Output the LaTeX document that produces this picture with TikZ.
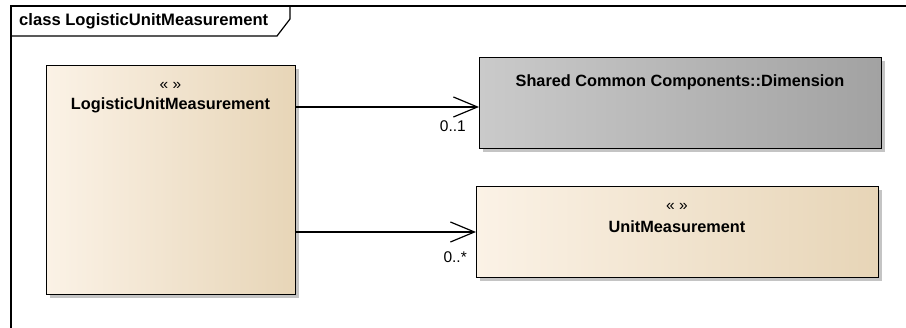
\documentclass[tikz,border=0pt]{standalone}
\usepackage{fontspec}
\setmainfont{Liberation Sans}
\usetikzlibrary{arrows.meta}
\definecolor{creamL}{HTML}{FBF2E6}
\definecolor{creamM}{HTML}{F6EADB}
\definecolor{creamR}{HTML}{E7D5B7}
\definecolor{grayL}{HTML}{CACACA}
\definecolor{grayR}{HTML}{A2A2A2}
\definecolor{shadowc}{HTML}{C4C4C4}
\tikzset{
  txt/.style={font=\fontsize{15.5}{18}\selectfont, inner sep=0pt},
  btxt/.style={font=\fontsize{16.3}{19}\selectfont\bfseries, inner sep=0pt},
  ttxt/.style={font=\fontsize{16.6}{19}\selectfont\bfseries, inner sep=0pt},
  stxt/.style={font=\fontsize{15.5}{18}\selectfont, inner sep=0pt},
  classbox/.style={draw=black, line width=1.4pt, anchor=north west, inner sep=0pt},
  cream/.style={classbox, left color=creamL, middle color=creamM, right color=creamR},
  grey/.style={classbox, left color=grayL, right color=grayR},
  assoc/.style={line width=1.2pt, -{Straight Barb[length=24pt,width=20pt,line width=1.2pt]}},
  frameline/.style={line width=1.2pt, draw=black}
}
\begin{document}
\begin{tikzpicture}[x=1pt,y=-1pt]
\useasboundingbox[fill=white] (0,0) rectangle (906,328);
% frame
\draw[frameline] (11,328) -- (11,6) -- (906,6);
\draw[frameline] (11,36) -- (277,36) -- (290,19) -- (290,6);
\node[ttxt, anchor=west] (title) at (19,21) {class LogisticUnitMeasurement};
% shadows
\fill[shadowc] (50,69) rectangle (299,298);
\fill[shadowc] (483,61) rectangle (885,152);
\fill[shadowc] (480,190) rectangle (882,281);
% boxes
\node[cream, minimum width=249pt, minimum height=229pt] (lum) at (46,65) {};
\node[grey, minimum width=402pt, minimum height=91pt] (dim) at (479,57) {};
\node[cream, minimum width=402pt, minimum height=91pt] (um) at (476,186) {};
% texts
\node[stxt] (lumst) at (170.5,86) {« »};
\node[btxt] (lumname) at (170.5,105) {LogisticUnitMeasurement};
\node[btxt] (dimname) at (680,82) {Shared Common Components::Dimension};
\node[stxt] (umst) at (677,207) {« »};
\node[btxt] (umname) at (677,227) {UnitMeasurement};
% connectors
\coordinate (a1) at (0,107);
\coordinate (a2) at (0,232);
\draw[assoc] (lum.east |- a1) -- (dim.west |- a1);
\draw[assoc] (lum.east |- a2) -- (um.west |- a2);
\node[txt, anchor=east] (m1) at (466,126) {0..1};
\node[txt, anchor=east] (m2) at (467,257) {0..*};
\end{tikzpicture}
\end{document}
